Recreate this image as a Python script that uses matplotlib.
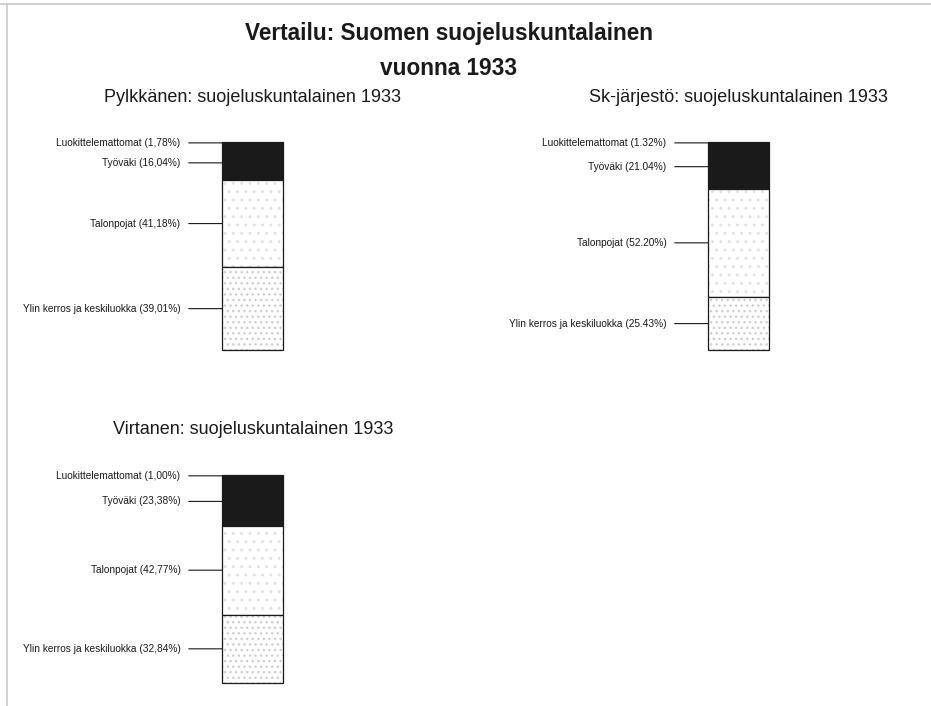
#!/usr/bin/env python3
# -*- coding: utf-8 -*-
"""Vertailu: suojeluskuntalaisen sosiaalinen tausta 1933, kolme pinottua pylvästä."""

import matplotlib

matplotlib.use("Agg")
import matplotlib.pyplot as plt
from matplotlib.lines import Line2D

plt.rcParams["font.family"] = ["Liberation Sans", "DejaVu Sans"]

# categories, top of bar first
categories = ["Luokittelemattomat", "Työväki", "Talonpojat", "Ylin kerros ja keskiluokka"]

panel_titles = [
    "Pylkkänen: suojeluskuntalainen 1933",
    "Sk-järjestö: suojeluskuntalainen 1933",
    "Virtanen: suojeluskuntalainen 1933",
]
pylkkanen = [1.78, 16.04, 41.18, 39.01]
sk_jarjesto = [1.32, 21.04, 52.20, 25.43]
virtanen = [1.00, 23.38, 42.77, 32.84]
decimal_marks = [",", ".", ","]

main_title = "Vertailu: Suomen suojeluskuntalainen\nvuonna 1933"

segment_fill = ["#1a1a1a", "#1a1a1a", "white", "white"]
segment_hatch = [None, None, "..", "..."]
hatch_grey = ["#1a1a1a", "#1a1a1a", "#e2e2e2", "#cfcfcf"]

# bar axes [left, bottom, width, height] in figure fraction, title position
panels = [
    ([0.2385, 0.5042, 0.0655, 0.2946], (0.271, 0.8626)),
    ([0.7605, 0.5042, 0.0655, 0.2946], (0.793, 0.8626)),
    ([0.2385, 0.0326, 0.0655, 0.2946], (0.272, 0.391)),
]

fig = plt.figure(figsize=(9.31, 7.06), dpi=100)
fig.patch.set_facecolor("white")

fig.text(0.482, 0.9275, main_title, ha="center", va="center", fontsize=16.3,
         fontweight="bold", color="#1a1a1a", linespacing=1.7)

# faint scan border
fig.add_artist(Line2D([0.0, 1.0], [0.994, 0.994], color="#c8c8c8", lw=1.2))
fig.add_artist(Line2D([0.0075, 0.0075], [0.0, 0.994], color="#c8c8c8", lw=1.2))

for (rect, (tx, ty)), title, values, dec in zip(
    panels, panel_titles, [pylkkanen, sk_jarjesto, virtanen], decimal_marks
):
    fig.text(tx, ty, title, ha="center", va="center", fontsize=13, color="#1a1a1a")

    ax = fig.add_axes(rect)
    ax.set_xlim(0, 1)
    ax.set_ylim(sum(values), 0)
    ax.set_axis_off()

    bottom = 0.0
    for cat, val, fc, hatch, hc in zip(categories, values, segment_fill, segment_hatch, hatch_grey):
        ax.bar(0.5, val, width=1.0, bottom=bottom, color=fc, hatch=hatch,
               edgecolor=hc, linewidth=0, align="center")
        ax.bar(0.5, val, width=1.0, bottom=bottom, facecolor="none",
               edgecolor="#1a1a1a", linewidth=0.9, align="center", clip_on=False)
        mid = bottom + val / 2
        if cat == categories[0]:
            mid = bottom + 0.4
        label = f"{cat} ({val:.2f}%)".replace(".", dec)
        ax.annotate(label, xy=(0.0, mid), xytext=(-30, 0), textcoords="offset points",
                    ha="right", va="center", fontsize=7.3, color="#1a1a1a",
                    arrowprops=dict(arrowstyle="-", color="#1a1a1a", lw=0.8,
                                    shrinkA=4, shrinkB=0),
                    annotation_clip=False)
        bottom += val

fig.savefig("out.png", dpi=100)
plt.close(fig)
